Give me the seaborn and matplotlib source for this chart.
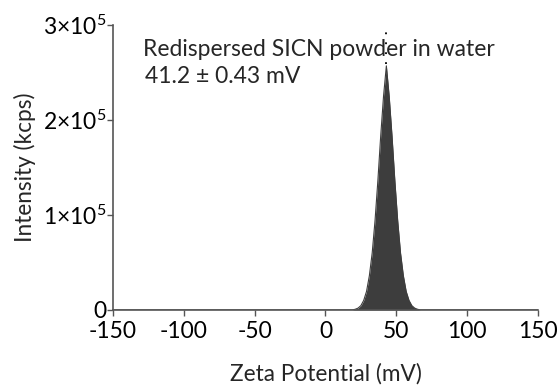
import matplotlib
matplotlib.use("Agg")
import matplotlib.pyplot as plt
import seaborn as sns
import numpy as np
import pandas as pd

# Data
zeta_mv = [-150, 19, 21, 23, 25, 27, 29, 31, 33, 35, 37, 39, 41, 43,
           45, 47, 49, 51, 53, 55, 57, 59, 61, 63, 65, 67, 150]
intensity = [0, 0, 700, 1900, 4500, 10000, 19500, 36000, 60000, 94000, 136000,
             183000, 225000, 257000, 225000, 183000, 136000, 94000, 60000,
             36000, 19500, 10000, 4500, 1900, 700, 0, 0]
peak_mv = 43
peak_top = 257000
xticks = [-150, -100, -50, 0, 50, 100, 150]
yticks = [0, 100000, 200000, 300000]
ytick_labels = ["0", r"$1{\times}10^5$", r"$2{\times}10^5$", r"$3{\times}10^5$"]
title_text = "Redispersed SICN powder in water"
value_text = "41.2 ± 0.43 mV"

sns.set_theme(style="ticks")
plt.rcParams["font.family"] = ["Lato", "DejaVu Sans"]
plt.rcParams["mathtext.fontset"] = "custom"
plt.rcParams["mathtext.rm"] = "Lato"
plt.rcParams["mathtext.it"] = "Lato"

df = pd.DataFrame({"zeta": zeta_mv, "intensity": intensity})

fig = plt.figure(figsize=(5.58, 3.85), dpi=100)
ax = fig.add_axes([0.2025, 0.195, 0.7615, 0.74])

sns.lineplot(data=df, x="zeta", y="intensity", ax=ax, color="#3d3d3d", lw=0.8)
ax.fill_between(df["zeta"], df["intensity"], color="#3d3d3d", lw=0)
ax.plot([peak_mv, peak_mv], [peak_top + 2000, 300000], ls=(0, (1, 4.5)),
        color="black", lw=1.3)

ax.set_xlim(-150, 150)
ax.set_ylim(0, 300000)
ax.set_xticks(xticks)
ax.set_xticklabels([str(t) for t in xticks])
ax.set_yticks(yticks)
ax.set_yticklabels(ytick_labels)
ax.tick_params(labelsize=16.5, colors="#555555", labelcolor="black",
               length=4, width=1)
ax.tick_params(axis="x", pad=4)
ax.tick_params(axis="y", pad=1)
for s in ["top", "right"]:
    ax.spines[s].set_visible(False)
for s in ["left", "bottom"]:
    ax.spines[s].set_color("#555555")
    ax.spines[s].set_linewidth(1.2)

ax.set_xlabel("Zeta Potential (mV)", fontsize=16.3)
ax.xaxis.set_label_coords(0.5, -0.225)
ax.xaxis.label.set_va("center")
ax.set_ylabel("Intensity (kcps)", fontsize=16.3, labelpad=5)

ax.text(0.07, 0.915, title_text, transform=ax.transAxes, fontsize=16.5,
        va="center", ha="left")
ax.text(0.075, 0.82, value_text, transform=ax.transAxes, fontsize=16.5,
        va="center", ha="left")

fig.savefig("out.png", dpi=100)
